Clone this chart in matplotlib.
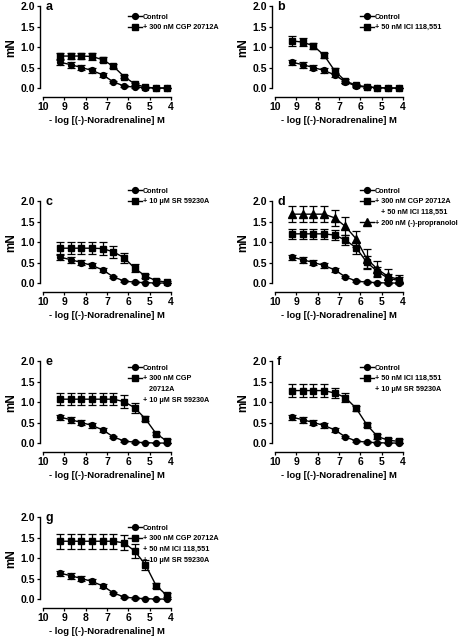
import matplotlib
matplotlib.use("Agg")
import matplotlib.pyplot as plt
from matplotlib.lines import Line2D

plt.rcParams['font.family'] = ['Liberation Sans', 'DejaVu Sans']
plt.rcParams['font.weight'] = 'bold'

# -log[NA] concentrations
log_na = [9.2, 8.7, 8.2, 7.7, 7.2, 6.7, 6.2, 5.7, 5.2, 4.7, 4.2]

control = [0.63, 0.57, 0.50, 0.43, 0.32, 0.15, 0.05, 0.02, 0.01, 0.0, 0.0]
control_err = [0.06, 0.07, 0.06, 0.06, 0.05, 0.03, 0.02, 0.02, 0.01, 0.01, 0.01]

cgp = [0.78, 0.78, 0.78, 0.77, 0.69, 0.53, 0.28, 0.10, 0.02, 0.0, 0.0]
cgp_err = [0.08, 0.08, 0.08, 0.08, 0.06, 0.05, 0.03, 0.02, 0.01, 0.01, 0.01]

ici = [1.15, 1.12, 1.03, 0.80, 0.42, 0.17, 0.07, 0.03, 0.01, 0.0, 0.0]
ici_err = [0.13, 0.10, 0.08, 0.06, 0.08, 0.04, 0.02, 0.02, 0.01, 0.01, 0.01]

sr = [0.85, 0.85, 0.85, 0.85, 0.84, 0.76, 0.62, 0.36, 0.17, 0.06, 0.02]
sr_err = [0.15, 0.15, 0.15, 0.15, 0.15, 0.15, 0.12, 0.10, 0.05, 0.05, 0.03]

cgp_ici = [1.20, 1.20, 1.20, 1.20, 1.17, 1.05, 0.86, 0.51, 0.28, 0.12, 0.06]
cgp_ici_err = [0.12, 0.12, 0.12, 0.12, 0.12, 0.13, 0.14, 0.14, 0.12, 0.10, 0.08]

propranolol = [1.68, 1.68, 1.68, 1.68, 1.59, 1.38, 1.08, 0.59, 0.34, 0.16, 0.09]
propranolol_err = [0.20, 0.20, 0.20, 0.20, 0.20, 0.22, 0.20, 0.25, 0.20, 0.18, 0.10]

cgp_sr = [1.07, 1.07, 1.07, 1.07, 1.07, 1.07, 1.01, 0.86, 0.59, 0.23, 0.05]
cgp_sr_err = [0.15, 0.15, 0.15, 0.15, 0.15, 0.15, 0.15, 0.12, 0.06, 0.04, 0.05]

ici_sr = [1.28, 1.28, 1.28, 1.28, 1.22, 1.11, 0.85, 0.45, 0.16, 0.07, 0.04]
ici_sr_err = [0.15, 0.15, 0.15, 0.15, 0.13, 0.12, 0.06, 0.05, 0.06, 0.06, 0.05]

triple = [1.41, 1.41, 1.41, 1.41, 1.41, 1.41, 1.37, 1.17, 0.84, 0.33, 0.09]
triple_err = [0.18, 0.18, 0.18, 0.18, 0.18, 0.18, 0.18, 0.18, 0.12, 0.05, 0.05]

yticks = [0.0, 0.5, 1.0, 1.5, 2.0]
xticks = [10, 9, 8, 7, 6, 5, 4]
xlabel = "- log [(-)-Noradrenaline] M"

# panel: letter, series [(values, errors, marker)], legend lines [(label, handle index)]
panels = [
    ("a", [(cgp, cgp_err, "s")],
     [("Control", 0), ("+ 300 nM CGP 20712A", 1)]),
    ("b", [(ici, ici_err, "s")],
     [("Control", 0), ("+ 50 nM ICI 118,551", 1)]),
    ("c", [(sr, sr_err, "s")],
     [("Control", 0), ("+ 10 \u03bcM SR 59230A", 1)]),
    ("d", [(cgp_ici, cgp_ici_err, "s"), (propranolol, propranolol_err, "^")],
     [("Control", 0), ("+ 300 nM CGP 20712A", 1), ("   + 50 nM ICI 118,551", None),
      ("+ 200 nM (-)-propranolol", 2)]),
    ("e", [(cgp_sr, cgp_sr_err, "s")],
     [("Control", 0), ("+ 300 nM CGP", 1), ("   20712A", None), ("+ 10 \u03bcM SR 59230A", None)]),
    ("f", [(ici_sr, ici_sr_err, "s")],
     [("Control", 0), ("+ 50 nM ICI 118,551", 1), ("+ 10 \u03bcM SR 59230A", None)]),
    ("g", [(triple, triple_err, "s")],
     [("Control", 0), ("+ 300 nM CGP 20712A", 1), ("+ 50 nM ICI 118,551", None),
      ("+ 10 \u03bcM SR 59230A", None)]),
]

W, H = 463, 640
fig = plt.figure(figsize=(W / 100, H / 100), dpi=100)

col_left = [39.8, 271.8]
row_bottom = [90.5, 285.5, 445.5, 601.5]
legend_y = [0.89, 1.133, 0.937, 0.89]
ax_w, ax_h = 134.4, 86.5

for i, (letter, series, leg) in enumerate(panels):
    r, c = divmod(i, 2)
    ax = fig.add_axes([col_left[c] / W, 1 - row_bottom[r] / H, ax_w / W, ax_h / H])
    handles = []
    h = ax.errorbar(log_na, control, yerr=control_err, color="black", marker="o",
                    ms=4.2, lw=1.0, elinewidth=0.9, capsize=3, capthick=0.9,
                    clip_on=False)
    handles.append(h)
    for vals, errs, mk in series:
        h = ax.errorbar(log_na, vals, yerr=errs, color="black", marker=mk,
                        ms=4.8 if mk == "s" else 5.2, lw=1.0, elinewidth=0.9,
                        capsize=3, capthick=0.9, clip_on=False)
        handles.append(h)

    ax.set_xlim(10.15, 3.85)
    ax.set_ylim(-0.06, 2.05)
    ax.set_xticks(xticks)
    ax.set_yticks(yticks)
    ax.set_yticklabels([f"{v:.1f}" for v in yticks])
    ax.spines["top"].set_visible(False)
    ax.spines["right"].set_visible(False)
    ax.spines["left"].set_bounds(0, 2)
    ax.spines["bottom"].set_bounds(10, 4)
    ax.spines["bottom"].set_position(("outward", 5))
    for s in ("left", "bottom"):
        ax.spines[s].set_linewidth(1.0)
    ax.tick_params(axis="both", labelsize=7.5, width=0.9, length=2.5, pad=1)
    ax.set_ylabel("mN", fontsize=8.5, fontweight="bold", labelpad=2)
    ax.set_xlabel(xlabel, fontsize=6.8, fontweight="bold", labelpad=3)
    ax.text(0.04, 0.97, letter, transform=ax.transAxes, fontsize=9,
            fontweight="bold", va="center", ha="left")

    leg_handles, leg_labels = [], []
    for label, idx in leg:
        if idx is None:
            leg_handles.append(Line2D([], [], linestyle="none"))
        else:
            line = handles[idx].lines[0]
            leg_handles.append(Line2D([], [], color="black", lw=1.0,
                                      marker=line.get_marker(), ms=line.get_markersize()))
        leg_labels.append(label)
    ax.legend(leg_handles, leg_labels, loc="upper left",
              bbox_to_anchor=(0.655, legend_y[r]),
              frameon=False, handlelength=1.9, handletextpad=0.2,
              labelspacing=0.5, borderpad=0, borderaxespad=0,
              prop={"weight": "bold", "size": 5.2})

fig.savefig("out.png", dpi=100)
